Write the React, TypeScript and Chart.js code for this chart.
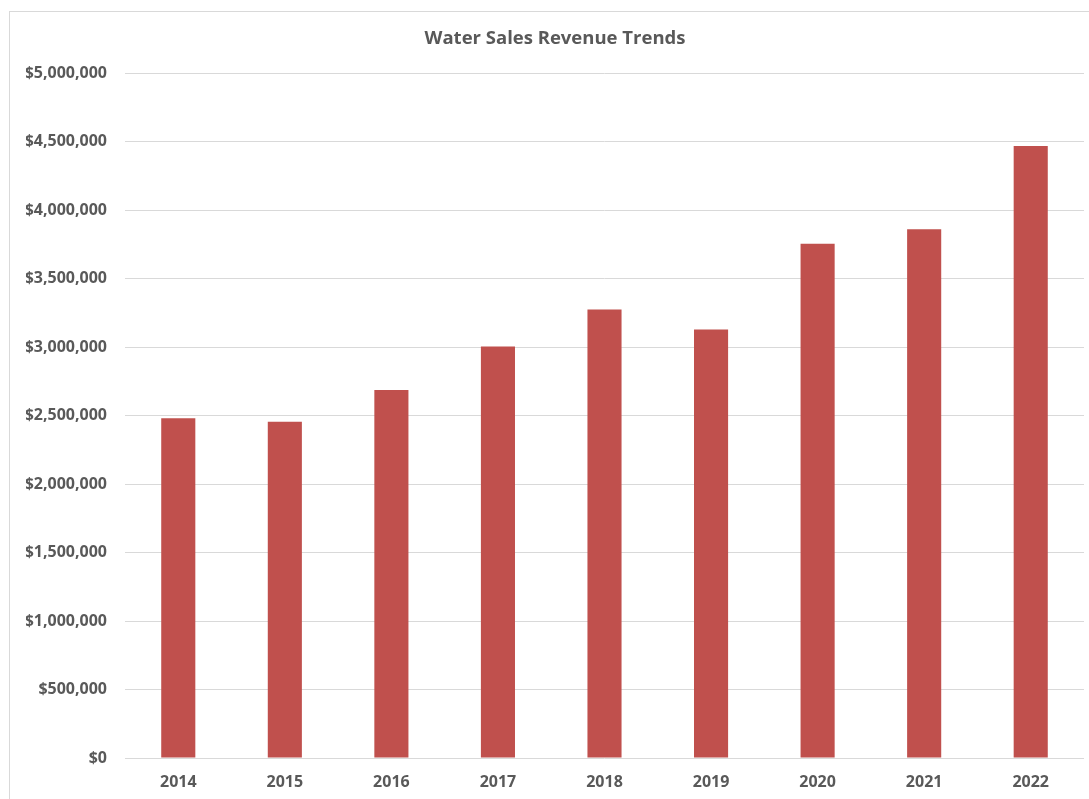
import React, { useEffect, useRef } from "react";
import { Chart, registerables } from "chart.js";

Chart.register(...registerables);

const years: string[] = ["2014", "2015", "2016", "2017", "2018", "2019", "2020", "2021", "2022"];
const revenue: number[] = [2480000, 2455000, 2687000, 3005000, 3275000, 3129000, 3754000, 3860000, 4468000];
const yTicks: number[] = [0, 500000, 1000000, 1500000, 2000000, 2500000, 3000000, 3500000, 4000000, 4500000, 5000000];
const chartTitle = "Water Sales Revenue Trends";

const FONT = "'Open Sans', Lato, sans-serif";
const TEXT = "#595959";

export default function App() {
  const ref = useRef<HTMLCanvasElement | null>(null);

  useEffect(() => {
    if (!ref.current) return;
    const chart = new Chart(ref.current, {
      type: "bar",
      data: {
        labels: years,
        datasets: [
          {
            label: "Revenue",
            data: revenue,
            backgroundColor: "#c0504d",
            borderWidth: 0,
            categoryPercentage: 1,
            barPercentage: 0.32,
          },
        ],
      },
      options: {
        responsive: false,
        animation: false,
        layout: { padding: { top: 0, right: 16, bottom: 0, left: 16 } },
        plugins: {
          legend: { display: false },
          tooltip: { enabled: false },
          title: {
            display: true,
            text: chartTitle,
            color: TEXT,
            font: { family: FONT, size: 18.5, weight: "bold" },
            padding: { top: 16, bottom: 23 },
          },
        },
        scales: {
          x: {
            grid: { display: false, drawTicks: false },
            border: { display: false },
            ticks: {
              color: TEXT,
              font: { family: FONT, size: 16, weight: "bold" },
              padding: 15,
            },
            afterFit: (s: any) => {
              s.height = 41;
            },
          },
          y: {
            min: 0,
            max: 5000000,
            afterBuildTicks: (s: any) => {
              s.ticks = yTicks.map((v) => ({ value: v }));
            },
            grid: { color: "#d9d9d9", lineWidth: 1, drawTicks: false },
            border: { display: false },
            ticks: {
              color: TEXT,
              font: { family: FONT, size: 16, weight: "bold" },
              padding: 18,
              callback: (v: any) => "$" + Number(v).toLocaleString("en-US"),
            },
            afterFit: (s: any) => {
              s.width = 99;
            },
          },
        },
      },
    });
    return () => chart.destroy();
  }, []);

  return (
    <div
      style={{
        position: "fixed",
        left: 9,
        top: 11,
        width: 1091,
        height: 788,
        borderLeft: "1px solid #d9d9d9",
        borderTop: "1px solid #d9d9d9",
        background: "#fff",
      }}
    >
      <canvas ref={ref} width={1090} height={787} style={{ display: "block" }} />
    </div>
  );
}
